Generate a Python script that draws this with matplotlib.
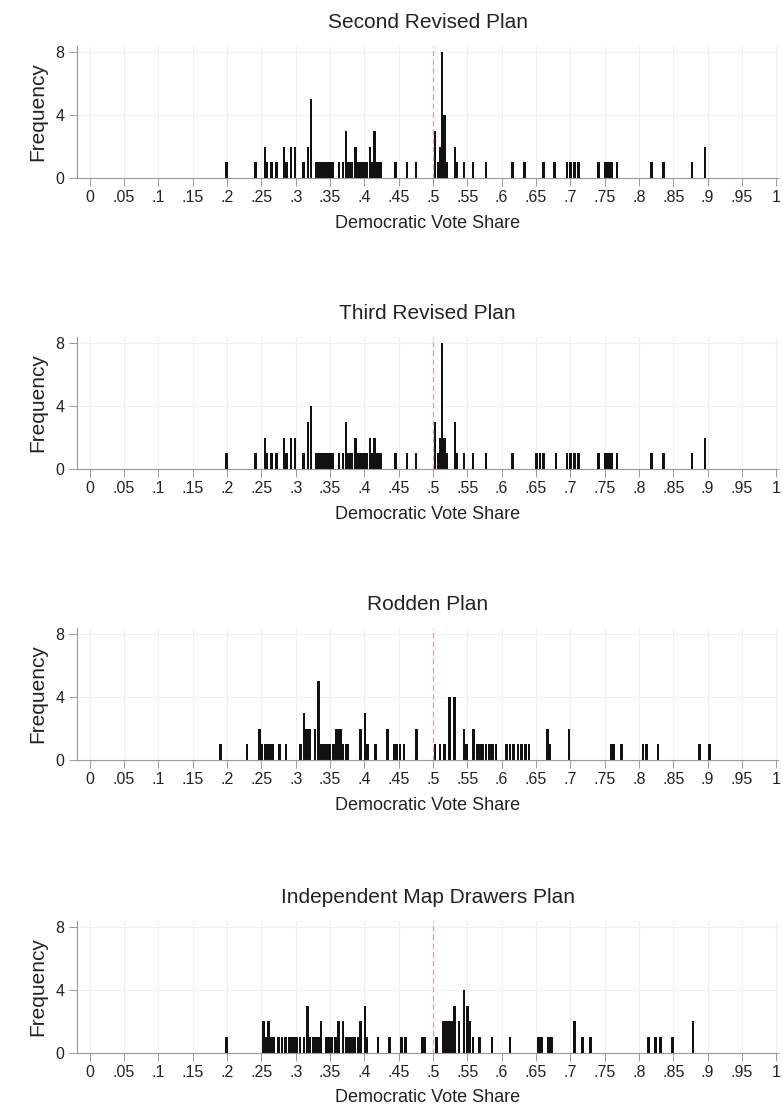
import matplotlib as mpl
mpl.use('Agg')
import matplotlib.pyplot as plt

plt.rcParams['font.family'] = ['Liberation Sans', 'DejaVu Sans']

titles = ['Second Revised Plan', 'Third Revised Plan', 'Rodden Plan',
          'Independent Map Drawers Plan']

# vote share of each bin and district count
second_x = [0.199, 0.241, 0.255, 0.258, 0.265, 0.272, 0.283, 0.287, 0.293, 0.299,
            0.311, 0.318, 0.322, 0.330, 0.333, 0.336, 0.339, 0.342, 0.345, 0.348,
            0.351, 0.354, 0.363, 0.369, 0.373, 0.376, 0.379, 0.382, 0.387, 0.390,
            0.393, 0.396, 0.399, 0.403, 0.408, 0.412, 0.415, 0.418, 0.421, 0.424,
            0.445, 0.462, 0.475, 0.503, 0.507, 0.510, 0.513, 0.517, 0.520, 0.532,
            0.535, 0.545, 0.558, 0.577, 0.616, 0.633, 0.661, 0.677, 0.695, 0.700,
            0.706, 0.712, 0.741, 0.751, 0.756, 0.760, 0.768, 0.818, 0.836, 0.877,
            0.896]
second_n = [1, 1, 2, 1, 1, 1, 2, 1, 2, 2,
            1, 2, 5, 1, 1, 1, 1, 1, 1, 1,
            1, 1, 1, 1, 3, 1, 1, 1, 2, 1,
            1, 1, 1, 1, 2, 1, 3, 1, 1, 1,
            1, 1, 1, 3, 1, 2, 8, 4, 1, 2,
            1, 1, 1, 1, 1, 1, 1, 1, 1, 1,
            1, 1, 1, 1, 1, 1, 1, 1, 1, 1,
            2]

third_x = [0.199, 0.241, 0.255, 0.258, 0.265, 0.272, 0.283, 0.287, 0.293, 0.299,
           0.311, 0.318, 0.322, 0.330, 0.333, 0.336, 0.339, 0.342, 0.345, 0.348,
           0.351, 0.354, 0.363, 0.369, 0.373, 0.376, 0.379, 0.382, 0.387, 0.390,
           0.393, 0.396, 0.399, 0.403, 0.408, 0.412, 0.415, 0.418, 0.421, 0.424,
           0.445, 0.462, 0.475, 0.503, 0.507, 0.510, 0.513, 0.517, 0.520, 0.532,
           0.535, 0.545, 0.558, 0.577, 0.616, 0.651, 0.656, 0.661, 0.679, 0.695,
           0.700, 0.706, 0.712, 0.741, 0.751, 0.756, 0.760, 0.768, 0.818, 0.836,
           0.877, 0.896]
third_n = [1, 1, 2, 1, 1, 1, 2, 1, 2, 2,
           1, 3, 4, 1, 1, 1, 1, 1, 1, 1,
           1, 1, 1, 1, 3, 1, 1, 1, 2, 1,
           1, 1, 1, 1, 2, 1, 2, 1, 1, 1,
           1, 1, 1, 3, 1, 2, 8, 2, 1, 3,
           1, 1, 1, 1, 1, 1, 1, 1, 1, 1,
           1, 1, 1, 1, 1, 1, 1, 1, 1, 1,
           1, 2]

rodden_x = [0.190, 0.229, 0.247, 0.251, 0.255, 0.258, 0.262, 0.266, 0.276, 0.286,
            0.307, 0.312, 0.316, 0.320, 0.328, 0.333, 0.337, 0.340, 0.343, 0.346,
            0.350, 0.355, 0.359, 0.362, 0.366, 0.369, 0.373, 0.376, 0.394, 0.401,
            0.405, 0.416, 0.434, 0.443, 0.447, 0.452, 0.458, 0.476, 0.503, 0.510,
            0.517, 0.524, 0.531, 0.545, 0.549, 0.559, 0.564, 0.568, 0.572, 0.577,
            0.582, 0.587, 0.592, 0.607, 0.612, 0.617, 0.624, 0.629, 0.635, 0.640,
            0.667, 0.670, 0.698, 0.759, 0.763, 0.775, 0.806, 0.811, 0.828, 0.888,
            0.903]
rodden_n = [1, 1, 2, 1, 1, 1, 1, 1, 1, 1,
            1, 3, 2, 2, 2, 5, 1, 1, 1, 1,
            1, 1, 2, 2, 2, 1, 1, 1, 2, 3,
            1, 1, 2, 1, 1, 1, 1, 2, 1, 1,
            1, 4, 4, 2, 1, 2, 1, 1, 1, 1,
            1, 1, 1, 1, 1, 1, 1, 1, 1, 1,
            2, 1, 2, 1, 1, 1, 1, 1, 1, 1,
            1]

indep_x = [0.199, 0.253, 0.256, 0.260, 0.263, 0.268, 0.275, 0.280, 0.285, 0.290,
           0.294, 0.298, 0.302, 0.306, 0.312, 0.317, 0.320, 0.325, 0.329, 0.333,
           0.337, 0.345, 0.349, 0.353, 0.358, 0.362, 0.369, 0.373, 0.377, 0.381,
           0.386, 0.391, 0.394, 0.401, 0.404, 0.420, 0.437, 0.454, 0.460, 0.484,
           0.488, 0.505, 0.515, 0.519, 0.523, 0.527, 0.531, 0.538, 0.545, 0.550,
           0.554, 0.558, 0.568, 0.586, 0.612, 0.654, 0.658, 0.668, 0.673, 0.706,
           0.718, 0.729, 0.814, 0.824, 0.831, 0.849, 0.879]
indep_n = [1, 2, 1, 2, 1, 1, 1, 1, 1, 1,
           1, 1, 1, 1, 1, 3, 1, 1, 1, 1,
           2, 1, 1, 1, 1, 2, 2, 1, 1, 1,
           1, 1, 2, 3, 1, 1, 1, 1, 1, 1,
           1, 1, 2, 2, 2, 2, 3, 2, 4, 3,
           2, 1, 1, 1, 1, 1, 1, 1, 1, 2,
           1, 1, 1, 1, 1, 1, 2]

all_x = [second_x, third_x, rodden_x, indep_x]
all_n = [second_n, third_n, rodden_n, indep_n]

xticks = [i * 0.05 for i in range(21)]
xticklabels = ['0', '.05', '.1', '.15', '.2', '.25', '.3', '.35', '.4', '.45', '.5',
               '.55', '.6', '.65', '.7', '.75', '.8', '.85', '.9', '.95', '1']

fig = plt.figure(figsize=(7.83, 11.16), dpi=100)

bottoms = [0.8405, 0.5797, 0.319, 0.0565]
for k in range(4):
    ax = fig.add_axes([0.098, bottoms[k], 0.896, 0.1185])
    for v in xticks:
        ax.axvline(v, color='#f0f0f0', lw=0.8, zorder=0)
    for v in [4, 8]:
        ax.axhline(v, color='#f0f0f0', lw=0.8, zorder=0)
    ax.bar(all_x[k], all_n[k], width=0.0038, color='#111111', zorder=2)
    ax.axvline(0.5, color='#e89a9a', lw=0.9, ls=(0, (4, 3)), zorder=3)
    ax.set_xlim(-0.019, 1.003)
    ax.set_ylim(0, 8.4)
    ax.set_xticks(xticks)
    ax.set_xticklabels(xticklabels)
    ax.set_yticks([0, 4, 8])
    ax.tick_params(axis='both', labelsize=11.5, color='#999999', length=5.5,
                   width=0.7, labelcolor='#222222')
    ax.tick_params(axis='x', pad=3)
    for s in ['top', 'right']:
        ax.spines[s].set_visible(False)
    for s in ['left', 'bottom']:
        ax.spines[s].set_color('#999999')
        ax.spines[s].set_linewidth(0.8)
    ax.set_title(titles[k], fontsize=15, pad=13, color='#222222')
    ax.set_xlabel('Democratic Vote Share', fontsize=13, labelpad=7, color='#222222')
    ax.set_ylabel('Frequency', fontsize=15, labelpad=6, color='#222222')

fig.savefig('out.png', dpi=100)
